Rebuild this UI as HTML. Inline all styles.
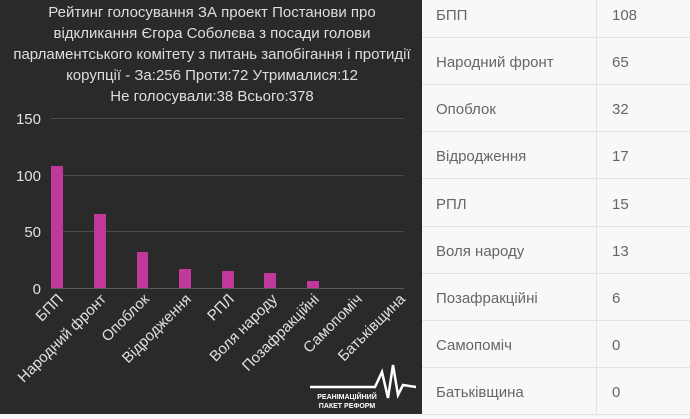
<!DOCTYPE html>
<html><head><meta charset="utf-8"><style>
html,body{margin:0;padding:0;width:690px;height:414px;overflow:hidden;background:#f7f7f7;font-family:"Liberation Sans","DejaVu Sans",sans-serif}
#dark{position:absolute;left:0;top:0;width:422px;height:414px;background:#2a2a2a}
#tbl{position:absolute;left:422px;top:0;width:268px;height:414px;background:#f8f8f8}
.row{position:absolute;left:0;width:268px;height:47px;border-bottom:1px solid #e3e3e3;box-sizing:border-box}
.row span{position:absolute;top:50%;transform:translateY(-40%);font-size:15px;color:#666}
.vline{position:absolute;left:174px;top:0;width:1px;height:414px;background:#e3e3e3}
</style></head><body>
<div id="dark">
<svg width="422" height="414" xmlns="http://www.w3.org/2000/svg" font-family="Liberation Sans, DejaVu Sans, sans-serif">
<g fill="#dedede" font-size="15" text-anchor="middle">
<text x="212" y="17">Рейтинг голосування ЗА проект Постанови про</text>
<text x="212" y="38">відкликання Єгора Соболєва з посади голови</text>
<text x="212" y="59">парламентського комітету з питань запобігання і протидії</text>
<text x="212" y="80">корупції - За:256 Проти:72 Утрималися:12</text>
<text x="212" y="101">Не голосували:38 Всього:378</text>
</g>
<g stroke="#4a4a4a" stroke-width="1">
<line x1="51" y1="118.5" x2="404" y2="118.5"/>
<line x1="51" y1="175.5" x2="404" y2="175.5"/>
<line x1="51" y1="231.5" x2="404" y2="231.5"/>
<line x1="51" y1="288.5" x2="404" y2="288.5" stroke="#5a5a5a"/>
</g>
<g fill="#e0e0e0" font-size="15" text-anchor="end">
<text x="41" y="124">150</text><text x="41" y="181">100</text><text x="41" y="237">50</text><text x="41" y="294">0</text>
</g>
<g fill="#c0399a">
<rect x="51" y="166" width="12" height="122"/>
<rect x="94" y="214" width="12" height="74"/>
<rect x="137" y="252" width="11" height="36"/>
<rect x="179" y="269" width="12" height="19"/>
<rect x="222" y="271" width="12" height="17"/>
<rect x="264" y="273" width="12" height="15"/>
<rect x="307" y="281" width="12" height="7"/>
</g>
<g fill="#e0e0e0" font-size="15" text-anchor="end">
<text transform="translate(64,300) rotate(-45)">БПП</text>
<text transform="translate(107,300) rotate(-45)">Народний фронт</text>
<text transform="translate(150,300) rotate(-45)">Опоблок</text>
<text transform="translate(192,300) rotate(-45)">Відродження</text>
<text transform="translate(235,300) rotate(-45)">РПЛ</text>
<text transform="translate(278,300) rotate(-45)">Воля народу</text>
<text transform="translate(320,300) rotate(-45)">Позафракційні</text>
<text transform="translate(363,300) rotate(-45)">Самопоміч</text>
<text transform="translate(406,300) rotate(-45)">Батьківщина</text>
</g>
<polyline points="310,387 375,387 382,372 388,398 393,365 398,395 403,385 416,387" fill="none" stroke="#fff" stroke-width="2.5"/>
<text x="347" y="399" fill="#fff" font-size="7" text-anchor="middle" font-weight="bold">РЕАНІМАЦІЙНИЙ</text>
<text x="347" y="408" fill="#fff" font-size="7" text-anchor="middle" font-weight="bold">ПАКЕТ РЕФОРМ</text>
</svg>
</div>
<div id="tbl">
<div class="vline"></div>
<div class="row" style="top:-9px"><span style="left:14px">БПП</span><span style="left:190px">108</span></div>
<div class="row" style="top:38px"><span style="left:14px">Народний фронт</span><span style="left:190px">65</span></div>
<div class="row" style="top:85px"><span style="left:14px">Опоблок</span><span style="left:190px">32</span></div>
<div class="row" style="top:132px"><span style="left:14px">Відродження</span><span style="left:190px">17</span></div>
<div class="row" style="top:180px"><span style="left:14px">РПЛ</span><span style="left:190px">15</span></div>
<div class="row" style="top:227px"><span style="left:14px">Воля народу</span><span style="left:190px">13</span></div>
<div class="row" style="top:274px"><span style="left:14px">Позафракційні</span><span style="left:190px">6</span></div>
<div class="row" style="top:321px"><span style="left:14px">Самопоміч</span><span style="left:190px">0</span></div>
<div class="row" style="top:368px"><span style="left:14px">Батьківщина</span><span style="left:190px">0</span></div>
</div>
</body></html>
